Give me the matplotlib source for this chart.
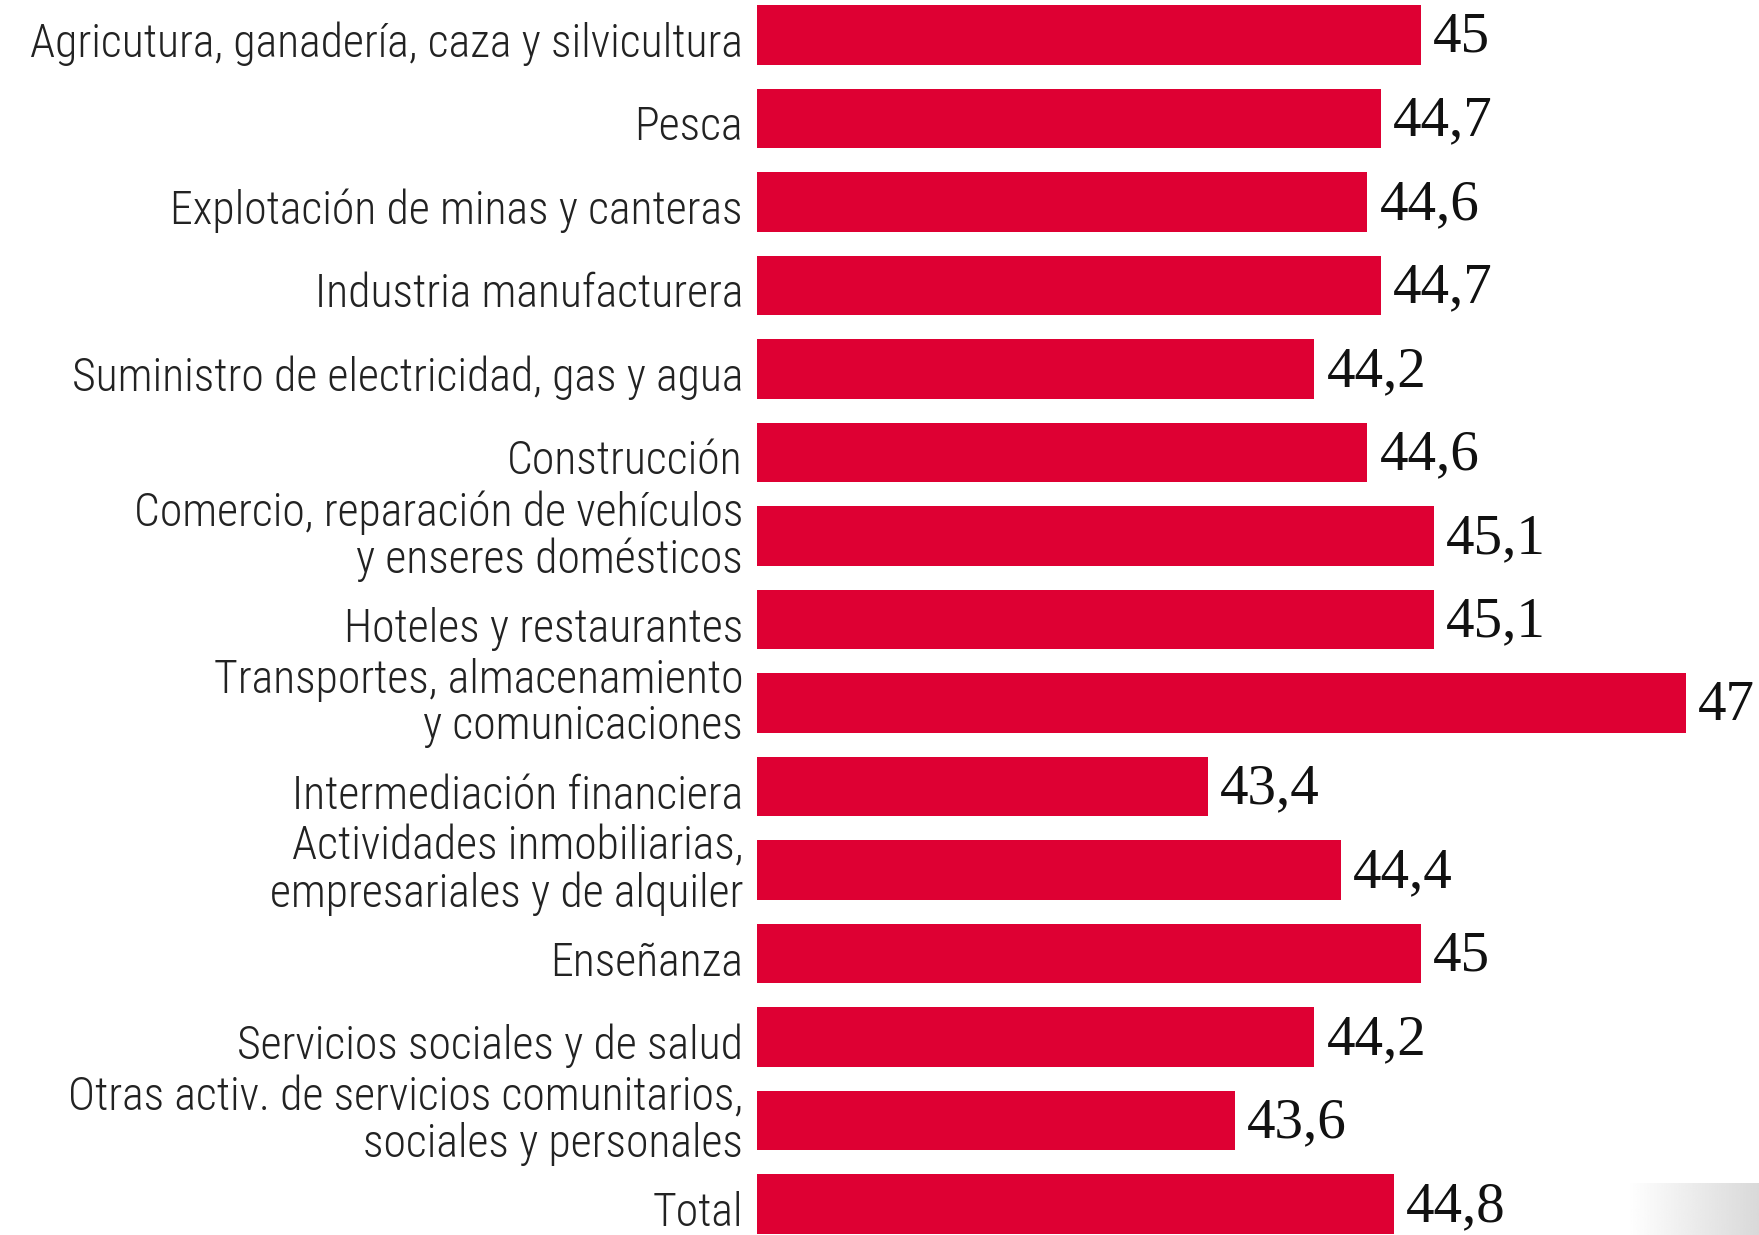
import matplotlib
matplotlib.use("Agg")
import matplotlib.pyplot as plt
import numpy as np

categories = [
    "Agricutura, ganadería, caza y silvicultura",
    "Pesca",
    "Explotación de minas y canteras",
    "Industria manufacturera",
    "Suministro de electricidad, gas y agua",
    "Construcción",
    "Comercio, reparación de vehículos\ny enseres domésticos",
    "Hoteles y restaurantes",
    "Transportes, almacenamiento\ny comunicaciones",
    "Intermediación financiera",
    "Actividades inmobiliarias,\nempresariales y de alquiler",
    "Enseñanza",
    "Servicios sociales y de salud",
    "Otras activ. de servicios comunitarios,\nsociales y personales",
    "Total",
]
values = [45, 44.7, 44.6, 44.7, 44.2, 44.6, 45.1, 45.1, 47, 43.4, 44.4, 45, 44.2, 43.6, 44.8]
value_labels = ["45", "44,7", "44,6", "44,7", "44,2", "44,6", "45,1", "45,1", "47",
                "43,4", "44,4", "45", "44,2", "43,6", "44,8"]

W, H = 1759, 1235
fig = plt.figure(figsize=(W / 100, H / 100), dpi=100)
left = 757 / W
ax = fig.add_axes([left, 0, 1 - left, 1])
ax.set_xlim(40, 47.55)
ax.set_ylim(14.371, -0.419)
ax.axis("off")

y = np.arange(len(categories))
ax.barh(y, [v - 40 for v in values], left=40, height=0.71, color="#DE0033")

label_font = ["Roboto Condensed", "PT Sans Narrow", "IBM Plex Sans Condensed",
              "Liberation Sans Narrow", "DejaVu Sans"]
label_texts = []
for i, (c, v, vl) in enumerate(zip(categories, values, value_labels)):
    dy = 0 if "\n" in c else -9
    t = ax.annotate(c, xy=(0, i), xycoords=("axes fraction", "data"),
                    xytext=(-14, dy), textcoords="offset pixels",
                    ha="right", va="center", fontsize=29, color="#222222",
                    family=label_font, fontweight="light", linespacing=1.07)
    label_texts.append(t)
    ax.annotate(vl, xy=(v, i), xycoords="data",
                xytext=(12, -3), textcoords="offset pixels",
                ha="left", va="center", fontsize=41, color="#111111",
                family=["Liberation Serif", "DejaVu Serif"])

# fit label font size so the widest single-line label spans ~712 px like the reference
fig.canvas.draw()
r = fig.canvas.get_renderer()
w0 = label_texts[0].get_window_extent(r).width
fs = 29 * 712 / w0
for t in label_texts:
    t.set_fontsize(fs)

# light grey gradient patch in the bottom-right corner
gax = fig.add_axes([1627 / W, 0, 1 - 1627 / W, 52 / H])
grad = np.linspace(1.0, 0.85, 256).reshape(1, -1)
gax.imshow(grad, aspect="auto", cmap="gray", vmin=0, vmax=1)
gax.axis("off")

fig.savefig("out.png", dpi=100)
